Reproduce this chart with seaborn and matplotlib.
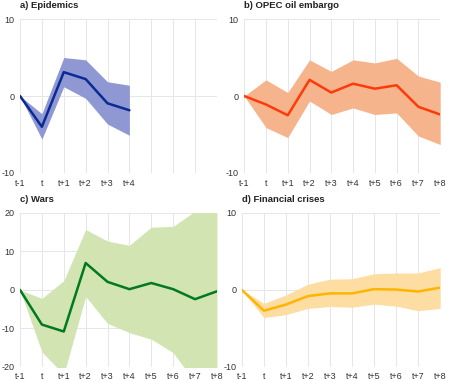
import numpy as np
import pandas as pd
import seaborn as sns
import matplotlib.pyplot as plt

# horizon labels
horizons = ["t-1", "t", "t+1", "t+2", "t+3", "t+4", "t+5", "t+6", "t+7", "t+8"]

# a) Epidemics (only up to t+4)
epi_mid = [0, -4.0, 3.1, 2.2, -0.95, -1.85]
epi_hi = [0, -2.3, 5.0, 4.7, 1.85, 1.4]
epi_lo = [0, -5.6, 1.2, -0.3, -3.65, -5.1]

# b) OPEC oil embargo
opec_mid = [0, -1.1, -2.5, 2.1, 0.45, 1.6, 0.95, 1.4, -1.4, -2.4]
opec_hi = [0, 2.1, 0.45, 4.7, 3.2, 4.7, 4.3, 4.9, 2.6, 1.8]
opec_lo = [0, -4.1, -5.4, -0.65, -2.4, -1.55, -2.4, -2.2, -5.2, -6.3]

# c) Wars
wars_mid = [0, -9.0, -10.8, 7.0, 2.1, 0.2, 1.8, 0.2, -2.4, -0.35]
wars_hi = [0, -2.2, 2.4, 15.7, 12.7, 11.6, 16.3, 16.5, 20.5, 23.0]
wars_lo = [0, -16.1, -22.0, -1.7, -8.7, -11.1, -12.8, -16.3, -24.0, -25.0]

# d) Financial crises
fin_mid = [0, -2.7, -1.9, -0.8, -0.45, -0.45, 0.1, 0.05, -0.2, 0.3]
fin_hi = [0, -1.75, -0.65, 0.75, 1.4, 1.45, 2.1, 2.2, 2.2, 2.9]
fin_lo = [0, -3.6, -3.2, -2.4, -2.15, -2.25, -1.85, -2.1, -2.7, -2.4]

sns.set_style("white")
plt.rcParams['font.family'] = ['Liberation Sans', 'DejaVu Sans']

fig = plt.figure(figsize=(4.59, 3.81), dpi=100)

panels = [
    ("a) Epidemics", epi_mid, epi_hi, epi_lo, "#0a2a96", "#8f98d2", 10,
     [0.0436, 0.546, 0.429, 0.404]),
    ("b) OPEC oil embargo", opec_mid, opec_hi, opec_lo, "#ff3a0a", "#f6b48c", 10,
     [0.532, 0.546, 0.427, 0.404]),
    ("c) Wars", wars_mid, wars_hi, wars_lo, "#007a1e", "#d2e4b2", 20,
     [0.0436, 0.037, 0.429, 0.404]),
    ("d) Financial crises", fin_mid, fin_hi, fin_lo, "#ffb400", "#fddda2", 10,
     [0.527, 0.037, 0.432, 0.404]),
]

for title, mid, hi, lo, lc, fc, lim, pos in panels:
    ax = fig.add_axes(pos)
    n = len(mid)
    df = pd.DataFrame({"x": np.arange(n), "mid": mid, "hi": hi, "lo": lo})
    ax.fill_between(df["x"], df["lo"], df["hi"], color=fc, linewidth=0, zorder=1)
    sns.lineplot(data=df, x="x", y="mid", ax=ax, color=lc, linewidth=1.8, zorder=3)

    ax.set_xlim(0, len(horizons) - 1)
    ax.set_ylim(-lim, lim)
    ax.set_xticks(range(len(horizons)))
    ax.set_xticklabels(horizons[:n] + [""] * (len(horizons) - n))
    ax.set_yticks([-lim, -lim / 2, 0, lim / 2, lim] if lim == 20 else [-lim, 0, lim])
    ax.set_yticklabels([f"{int(v)}" for v in ax.get_yticks()])
    ax.grid(True, color="#e6e6e6", linewidth=0.7, zorder=0)
    ax.set_axisbelow(True)
    for s in ax.spines.values():
        s.set_visible(False)
    ax.tick_params(axis="both", length=0, labelsize=6.5, colors="#333333", pad=4)
    ax.set_xlabel("")
    ax.set_ylabel("")
    ax.set_title(title, loc="left", fontsize=6.8, fontweight="bold", color="#222222", pad=8)

fig.savefig("out.png", dpi=100)
